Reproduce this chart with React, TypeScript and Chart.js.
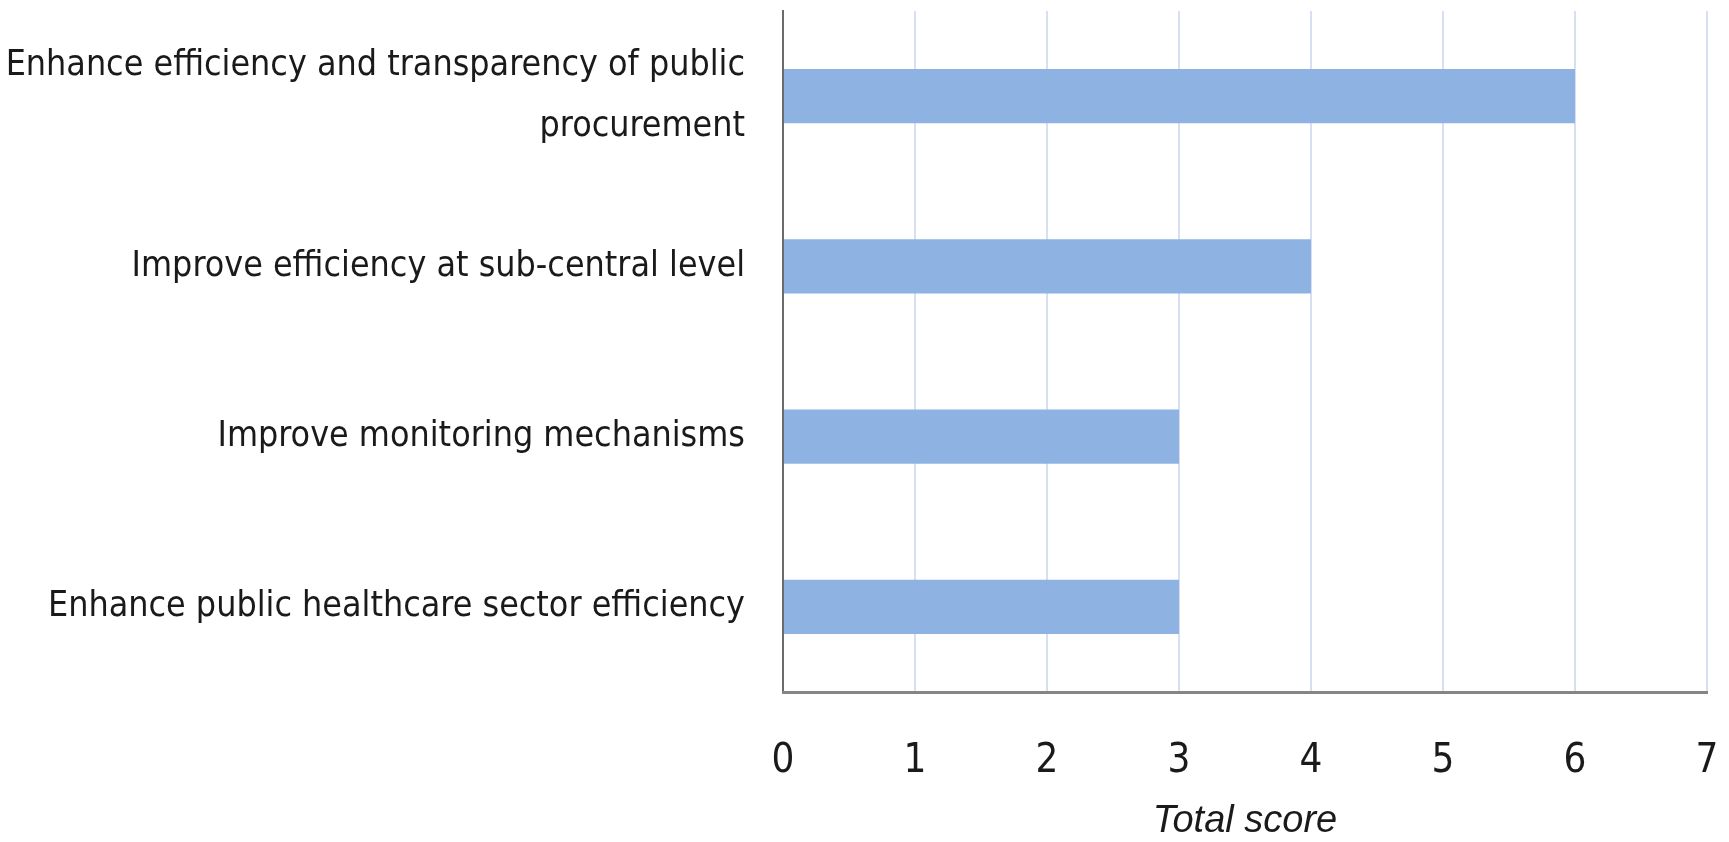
import React, { useEffect, useRef } from "react";
import { Chart, registerables } from "chart.js";

Chart.register(...registerables);

const categories: (string | string[])[] = [
  ["Enhance efficiency and transparency of public", "procurement"],
  "Improve efficiency at sub-central level",
  "Improve monitoring mechanisms",
  "Enhance public healthcare sector efficiency",
];
const scores = [6, 4, 3, 3];
const axisTitle = "Total score";
const xMin = 0;
const xMax = 7;

const LABEL_FONT = "'Liberation Sans Narrow', 'DejaVu Sans Condensed', Lato, sans-serif";

export default function App() {
  const ref = useRef<HTMLCanvasElement | null>(null);
  useEffect(() => {
    if (!ref.current) return;
    const chart = new Chart(ref.current, {
      type: "bar",
      data: {
        labels: categories,
        datasets: [
          {
            data: scores,
            backgroundColor: "#8EB3E2",
            borderWidth: 0,
            categoryPercentage: 0.8,
            barPercentage: 0.4,
          },
        ],
      },
      options: {
        indexAxis: "y",
        responsive: false,
        animation: false,
        layout: { padding: { top: 11, right: 22, left: 0, bottom: 0 } },
        plugins: { legend: { display: false }, tooltip: { enabled: false } },
        scales: {
          y: {
            type: "category",
            grid: { display: false, drawTicks: false },
            border: { display: true, color: "#6b6b6b", width: 2 },
            ticks: {
              color: "#1a1a1a",
              padding: 38,
              font: { family: LABEL_FONT, size: 35.5, lineHeight: 1.7 },
            },
            afterFit: (s: any) => {
              s.width = 783;
              s.paddingTop = 0;
              s.paddingBottom = 0;
            },
          },
          x: {
            type: "linear",
            min: xMin,
            max: xMax,
            grid: { color: "#D6E0F2", lineWidth: 2, drawTicks: false },
            border: { display: true, color: "#858585", width: 3 },
            ticks: {
              stepSize: 1,
              color: "#1a1a1a",
              padding: 46,
              font: { family: LABEL_FONT, size: 40 },
            },
            title: {
              display: true,
              text: axisTitle,
              color: "#1a1a1a",
              padding: { top: 0, bottom: 0 },
              font: { family: "'Liberation Sans', Arial, sans-serif", size: 38, style: "italic", lineHeight: 1.1 },
            },
            afterFit: (s: any) => {
              s.height = 150;
              s.paddingLeft = 0;
              s.paddingRight = 0;
            },
          },
        },
      },
    });
    return () => chart.destroy();
  }, []);
  return (
    <div style={{ position: "fixed", left: 0, top: 0, width: 1729, height: 842, background: "#fff" }}>
      <canvas ref={ref} width={1729} height={842} />
    </div>
  );
}
